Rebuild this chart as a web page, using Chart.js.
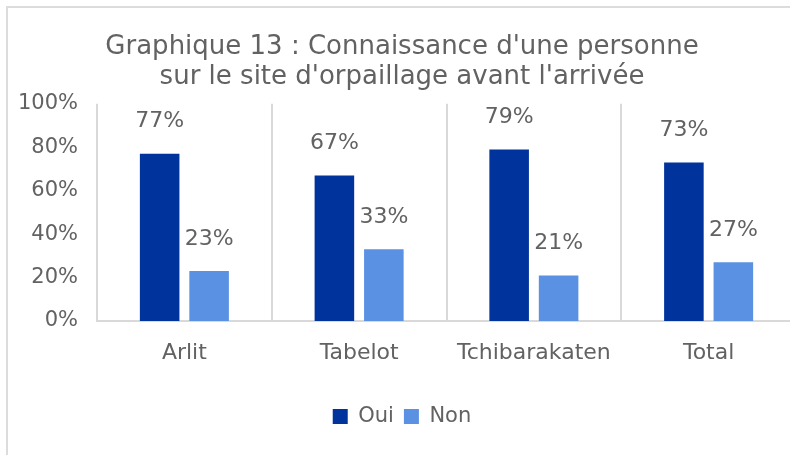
<!DOCTYPE html>
<html>
<head>
<meta charset="utf-8">
<script src="https://cdn.jsdelivr.net/npm/chart.js@4.4.1/dist/chart.umd.min.js"></script>
<style>
  html, body { margin: 0; padding: 0; background: #fff; overflow: hidden; }
  #wrapper {
    position: absolute; left: 6px; top: 6px;
    width: 810px; height: 470px;
    border: 2px solid #dcdcdc;
  }
  #chart { display: block; }
</style>
</head>
<body>
<div id="wrapper">
  <canvas id="chart" width="810" height="470"></canvas>
</div>
<script>
var categories = ['Arlit', 'Tabelot', 'Tchibarakaten', 'Total'];
var oui = [77, 67, 79, 73];
var non = [23, 33, 21, 27];
var yTicks = [0, 20, 40, 60, 80, 100];
var titleLines = ['Graphique 13 : Connaissance d\'une personne', 'sur le site d\'orpaillage avant l\'arrivée'];

var textColor = '#626262';
var fontName = '"DejaVu Sans", sans-serif';

// labels above each bar
var barLabels = {
    id: 'barLabels',
    afterDatasetsDraw: function (chart) {
        var ctx = chart.ctx;
        ctx.save();
        ctx.font = '22px ' + fontName;
        ctx.fillStyle = textColor;
        ctx.textAlign = 'center';
        ctx.textBaseline = 'middle';
        chart.data.datasets.forEach(function (ds, i) {
            chart.getDatasetMeta(i).data.forEach(function (bar, j) {
                ctx.fillText(ds.data[j] + '%', bar.x, bar.y - 32);
            });
        });
        ctx.restore();
    }
};

var ctx = document.getElementById('chart').getContext('2d');
var chart = new Chart(ctx, {
    type: 'bar',
    data: {
        labels: categories,
        datasets: [{
            label: 'Oui',
            data: oui,
            backgroundColor: '#00339c',
            borderWidth: 0,
            categoryPercentage: 0.566,
            barPercentage: 0.8
        }, {
            label: 'Non',
            data: non,
            backgroundColor: '#5b91e3',
            borderWidth: 0,
            categoryPercentage: 0.566,
            barPercentage: 0.8
        }]
    },
    options: {
        responsive: false,
        animation: false,
        layout: { padding: { left: 0, right: 22, top: 0, bottom: 41 } },
        plugins: {
            title: {
                display: true,
                text: titleLines,
                color: textColor,
                font: { family: fontName, size: 26, weight: 'normal', lineHeight: 1.15 },
                padding: { top: 24, bottom: 12 }
            },
            legend: {
                position: 'bottom',
                labels: {
                    color: textColor,
                    font: { family: fontName, size: 21 },
                    boxWidth: 15,
                    boxHeight: 15,
                    padding: 10
                }
            },
            tooltip: { enabled: false }
        },
        scales: {
            x: {
                grid: { color: '#d9d9d9', lineWidth: 2, drawTicks: false },
                border: { color: '#d9d9d9', width: 2 },
                ticks: { color: textColor, font: { family: fontName, size: 22 }, padding: 19 },
                afterFit: function (s) { s.height = 75; }
            },
            y: {
                min: 0,
                max: 100,
                afterBuildTicks: function (s) {
                    s.ticks = yTicks.map(function (v) { return { value: v }; });
                },
                grid: { display: false, drawTicks: false },
                border: { display: false },
                ticks: {
                    color: textColor,
                    font: { family: fontName, size: 21 },
                    padding: 19,
                    callback: function (v) { return v + '%'; }
                },
                afterFit: function (s) { s.width = 89; }
            }
        }
    },
    plugins: [barLabels]
});
</script>
</body>
</html>
